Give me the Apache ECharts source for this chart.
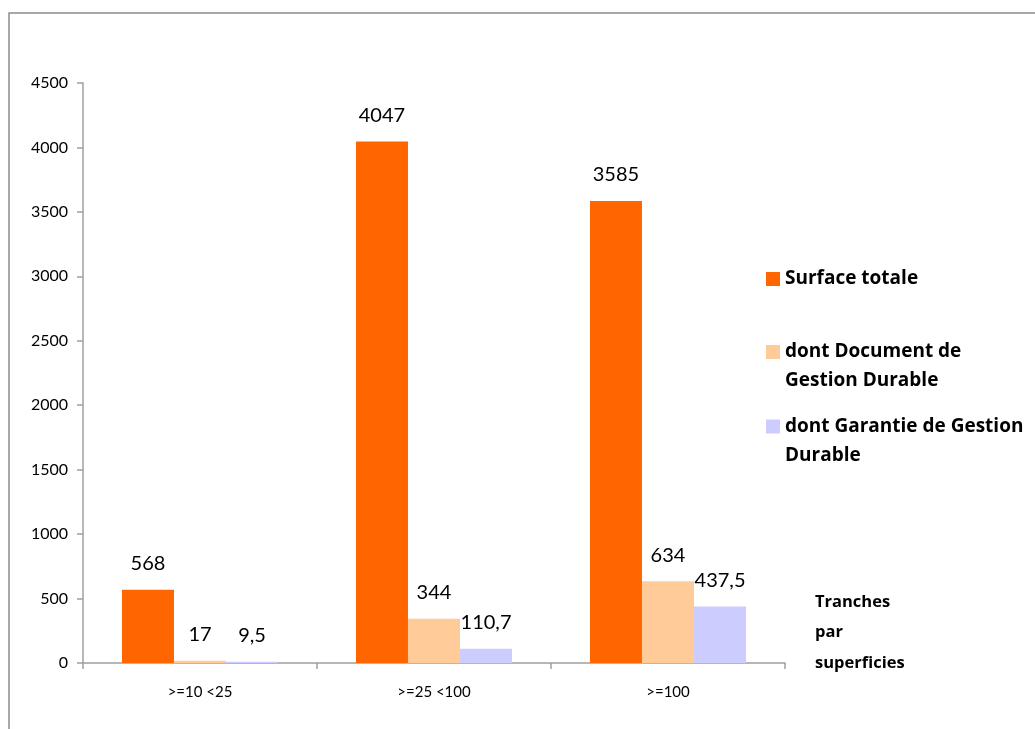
<!DOCTYPE html>
<html>
<head>
<meta charset="utf-8">
<style>
  html, body { margin: 0; padding: 0; background: #ffffff; overflow: hidden; }
  #chart { width: 1035px; height: 729px; }
</style>
<script src="https://cdn.jsdelivr.net/npm/echarts@6/dist/echarts.min.js"></script>
</head>
<body>
<div id="chart"></div>
<script>
// Surfaces par tranche de superficie
const categories = ['>=10 <25', '>=25 <100', '>=100'];
const seriesNames = ['Surface totale', 'dont Document de Gestion Durable', 'dont Garantie de Gestion Durable'];
const surfaceTotale = [568, 4047, 3585];
const documentGestion = [17, 344, 634];
const garantieGestion = [9.5, 110.7, 437.5];
const yTicks = [0, 500, 1000, 1500, 2000, 2500, 3000, 3500, 4000, 4500];

const colors = ['#FF6600', '#FFCC99', '#CCCCFF'];
// Legend text; a leading empty line keeps the swatch level with the first line
const legendLabels = {
  'Surface totale': 'Surface totale',
  'dont Document de Gestion Durable': '\ndont Document de\nGestion Durable',
  'dont Garantie de Gestion Durable': '\ndont Garantie de Gestion\nDurable'
};
const FONT = 'Lato, "Open Sans", sans-serif';
const BOLD_FONT = '"Open Sans", Lato, sans-serif';

const chart = echarts.init(document.getElementById('chart'), null, { renderer: 'canvas' });

function barSeries(name, values, color) {
  return {
    name: name,
    type: 'bar',
    data: values,
    barGap: '0%',
    barCategoryGap: '33.3%',
    itemStyle: { color: color },
    label: {
      show: true,
      position: 'top',
      distance: 16,
      color: '#000',
      fontFamily: FONT,
      fontSize: 20,
      formatter: p => String(p.value).replace('.', ',')
    }
  };
}

function legendItem(name, top) {
  return {
    left: 766,
    top: top,
    padding: 0,
    orient: 'vertical',
    itemWidth: 14,
    itemHeight: 14,
    icon: 'rect',
    selectedMode: false,
    data: [name],
    formatter: n => legendLabels[n],
    textStyle: {
      fontFamily: BOLD_FONT,
      fontWeight: 'bold',
      fontSize: 19,
      color: '#000',
      lineHeight: 29
    }
  };
}

chart.setOption({
  animation: false,
  color: colors,
  grid: { left: 83, width: 702, top: 83, height: 580, containLabel: false, outerBoundsMode: 'none' },
  graphic: [{
    type: 'rect',
    shape: { x: 9, y: 13, width: 1200, height: 900 },
    style: { fill: 'none', stroke: '#8c8c8c', lineWidth: 1.5 },
    silent: true
  }],
  legend: [
    legendItem(seriesNames[0], 264.5),
    legendItem(seriesNames[1], 308.5),
    legendItem(seriesNames[2], 383)
  ],
  xAxis: {
    type: 'category',
    data: categories,
    // trailing empty lines centre the block on the last line
    name: 'Tranches\npar\nsuperficies\n\n',
    nameLocation: 'end',
    nameGap: 30,
    nameTextStyle: {
      fontFamily: BOLD_FONT,
      fontWeight: 'bold',
      fontSize: 16.5,
      color: '#000',
      lineHeight: 30.5,
      align: 'left',
      verticalAlign: 'middle'
    },
    axisLine: { lineStyle: { color: '#a0a0a0', width: 1.5 } },
    axisTick: { show: true, length: 6, lineStyle: { color: '#a0a0a0', width: 1.5 } },
    axisLabel: { fontFamily: FONT, fontSize: 15, color: '#000', margin: 22 }
  },
  yAxis: {
    type: 'value',
    min: yTicks[0],
    max: yTicks[yTicks.length - 1],
    interval: yTicks[1] - yTicks[0],
    axisLine: { show: true, lineStyle: { color: '#a0a0a0', width: 1.5 } },
    axisTick: { show: true, length: 6, lineStyle: { color: '#a0a0a0', width: 1.5 } },
    splitLine: { show: false },
    axisLabel: { fontFamily: FONT, fontSize: 16, color: '#000', margin: 15, formatter: v => String(v) }
  },
  series: [
    barSeries(seriesNames[0], surfaceTotale, colors[0]),
    barSeries(seriesNames[1], documentGestion, colors[1]),
    barSeries(seriesNames[2], garantieGestion, colors[2])
  ]
});
</script>
</body>
</html>
